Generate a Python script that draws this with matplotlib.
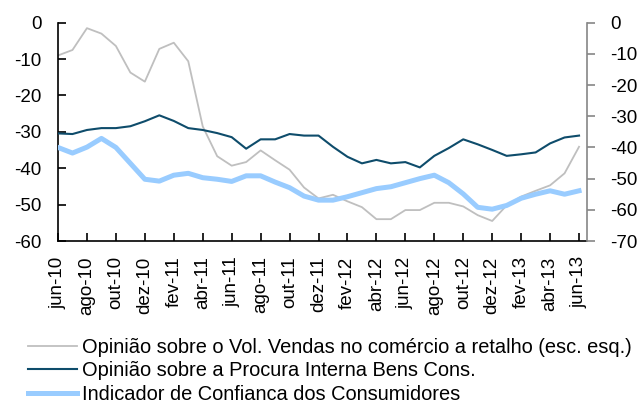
import matplotlib
matplotlib.use("Agg")
import matplotlib.pyplot as plt
import numpy as np

plt.rcParams["font.family"] = ["Liberation Sans", "DejaVu Sans"]
plt.rcParams["axes.unicode_minus"] = False

months = ["jun-10", "jul-10", "ago-10", "set-10", "out-10", "nov-10", "dez-10",
          "jan-11", "fev-11", "mar-11", "abr-11", "mai-11", "jun-11", "jul-11",
          "ago-11", "set-11", "out-11", "nov-11", "dez-11", "jan-12", "fev-12",
          "mar-12", "abr-12", "mai-12", "jun-12", "jul-12", "ago-12", "set-12",
          "out-12", "nov-12", "dez-12", "jan-13", "fev-13", "mar-13", "abr-13",
          "mai-13", "jun-13"]

# left axis
vendas = [-9.0, -7.5, -1.5, -3.0, -6.4, -13.7, -16.2, -7.2, -5.5, -10.6,
          -28.5, -36.7, -39.3, -38.3, -35.1, -37.8, -40.4, -45.3, -48.3,
          -47.3, -49.1, -50.7, -54.0, -54.0, -51.5, -51.5, -49.5, -49.5,
          -50.5, -52.9, -54.5, -50.2, -47.8, -46.2, -44.7, -41.4, -34.1]

# right axis
procura = [-35.5, -35.7, -34.4, -33.8, -33.8, -33.2, -31.6, -29.7, -31.5, -33.8,
           -34.4, -35.4, -36.7, -40.4, -37.4, -37.4, -35.7, -36.2, -36.2,
           -39.8, -43.0, -45.1, -44.0, -45.1, -44.7, -46.4, -42.7, -40.2,
           -37.4, -39.0, -40.8, -42.7, -42.2, -41.6, -38.7, -36.8, -36.2]

confianca = [-40.0, -41.8, -39.9, -37.1, -40.0, -45.1, -50.2, -50.8, -48.9, -48.3,
             -49.7, -50.2, -50.9, -49.1, -49.1, -51.1, -52.9, -55.6, -56.9,
             -56.9, -55.8, -54.5, -53.2, -52.6, -51.3, -50.0, -48.9, -51.3,
             -54.9, -59.2, -59.8, -58.6, -56.3, -55.0, -53.9, -55.0, -53.9]

labels = ["Opinião sobre o Vol. Vendas no comércio a retalho (esc. esq.)",
          "Opinião sobre a Procura Interna Bens Cons.",
          "Indicador de Confianca dos Consumidores"]

x = np.arange(len(months))

fig = plt.figure(figsize=(6.38, 4.05), dpi=100)
ax = fig.add_axes([58 / 638, 1 - 241 / 405, (587 - 58) / 638, (241 - 22.7) / 405])
ax2 = ax.twinx()

l1, = ax.plot(x, vendas, color="#BFBFBF", lw=1.3)
l2, = ax2.plot(x, procura, color="#0E4C6B", lw=1.5)
l3, = ax2.plot(x, confianca, color="#99CCFF", lw=3.6)

ax.set_xlim(0, 36.55)
ax.set_ylim(-60, 0)
ax2.set_ylim(-70, 0)
ax.set_yticks(np.arange(-60, 1, 10))
ax2.set_yticks(np.arange(-70, 1, 10))
ax.set_xticks(x[::2])
ax.set_xticklabels(months[::2], rotation=90)

ax.tick_params(axis="y", direction="in", length=6, width=1.2, labelsize=13.5, pad=12)
ax.tick_params(axis="x", direction="in", length=6, width=1.2, labelsize=13.5, pad=11)
ax2.tick_params(axis="y", direction="out", length=6, width=1.2, labelsize=13.5, pad=11,
                color="#868686")

for a in (ax, ax2):
    a.spines["top"].set_visible(False)
ax.spines["right"].set_visible(False)
ax2.spines["left"].set_visible(False)
ax2.spines["bottom"].set_visible(False)
ax2.spines["right"].set_color("#868686")
ax2.spines["right"].set_linewidth(1.2)
ax.spines["left"].set_linewidth(1.2)
ax.spines["bottom"].set_linewidth(1.2)

fig.legend([l1, l2, l3], labels, loc="lower left", bbox_to_anchor=(28 / 638, 0.002),
           frameon=False, fontsize=14.4, handlelength=2.45, handletextpad=0.25,
           labelspacing=0.24, borderpad=0, borderaxespad=0)

fig.savefig("out.png", dpi=100)
